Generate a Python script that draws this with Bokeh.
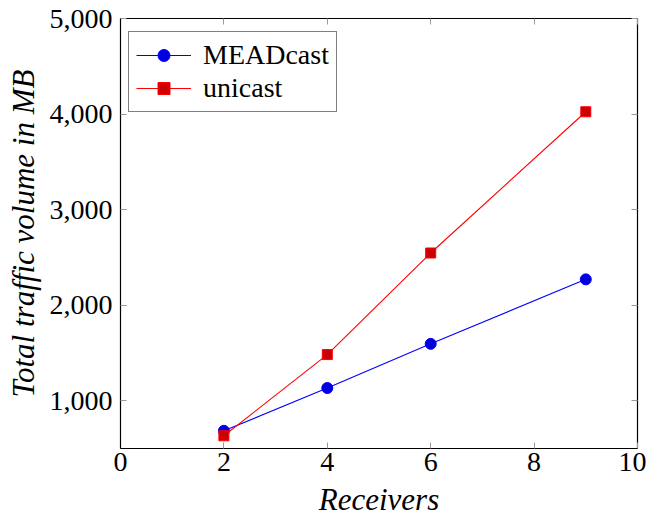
from bokeh.plotting import figure
from bokeh.models import (Range1d, LinearAxis, FixedTicker, NumeralTickFormatter, Legend,
                          LegendItem, CustomJSTickFormatter)
from bokeh.embed import file_html
from bokeh.resources import INLINE

receivers = [2, 4, 6, 9]
meadcast = [685, 1133, 1595, 2270]
unicast = [633, 1483, 2546, 4024]
x_ticks = [0, 2, 4, 6, 8, 10]
y_ticks = [1000, 2000, 3000, 4000, 5000]

FONT = "Liberation Serif"

p = figure(width=646, height=524, output_backend="svg", toolbar_location=None,
           x_range=Range1d(0, 10), y_range=Range1d(500, 5000),
           min_border_left=120, min_border_right=9, min_border_top=18, min_border_bottom=76)
p.grid.visible = False
p.outline_line_color = "black"
p.outline_line_width = 1.2
p.background_fill_color = "white"
p.border_fill_color = "white"

for ax in (p.xaxis[0], p.yaxis[0]):
    ax.major_tick_in = 6
    ax.major_tick_out = 0
    ax.minor_tick_line_color = None
    ax.major_tick_line_color = "#999999"
    ax.axis_line_color = "black"
    ax.major_label_text_font = FONT
    ax.major_label_text_font_size = "28px"
    ax.major_label_text_color = "black"
    ax.axis_label_text_font = FONT
    ax.axis_label_text_font_style = "italic"
    ax.axis_label_text_font_size = "31px"
    ax.axis_label_text_color = "black"

p.xaxis.ticker = FixedTicker(ticks=x_ticks)
p.yaxis.ticker = FixedTicker(ticks=y_ticks)
p.yaxis.formatter = NumeralTickFormatter(format="0,0")
p.xaxis.axis_label = "Receivers"
p.yaxis.axis_label = "Total traffic volume in MB"
p.xaxis.major_label_standoff = 4
p.yaxis.major_label_standoff = 8
p.xaxis.axis_label_standoff = 8
p.yaxis.axis_label_standoff = 6

# mirror ticks
blank = CustomJSTickFormatter(code="return '';")
top = LinearAxis(ticker=FixedTicker(ticks=x_ticks), major_tick_in=6, major_tick_out=0,
                 minor_tick_line_color=None, major_tick_line_color="#999999",
                 axis_line_color=None, formatter=blank, major_label_standoff=0)
right = LinearAxis(ticker=FixedTicker(ticks=y_ticks), major_tick_in=6, major_tick_out=0,
                   minor_tick_line_color=None, major_tick_line_color="#999999",
                   axis_line_color=None, formatter=blank, major_label_standoff=0)
p.add_layout(top, "above")
p.add_layout(right, "right")

l1 = p.line(receivers, meadcast, line_color="blue", line_width=1.1)
m1 = p.scatter(receivers, meadcast, marker="circle", size=11, fill_color="#0000dd", line_color="blue")
l2 = p.line(receivers, unicast, line_color="red", line_width=1.1)
m2 = p.scatter(receivers, unicast, marker="square", size=10, fill_color="#cc0000", line_color="red")

legend = Legend(items=[LegendItem(label="MEADcast", renderers=[l1, m1]),
                       LegendItem(label="unicast", renderers=[l2, m2])],
                location=(8, 336))
legend.label_text_font = FONT
legend.label_text_font_size = "28px"
legend.label_text_color = "black"
legend.border_line_color = "black"
legend.border_line_width = 1.2
legend.glyph_width = 55
legend.glyph_height = 30
legend.label_height = 30
legend.label_standoff = 12
legend.margin = 0
legend.padding = 7
legend.spacing = 1
p.add_layout(legend)

open("out.html", "w").write(file_html(p, INLINE))
